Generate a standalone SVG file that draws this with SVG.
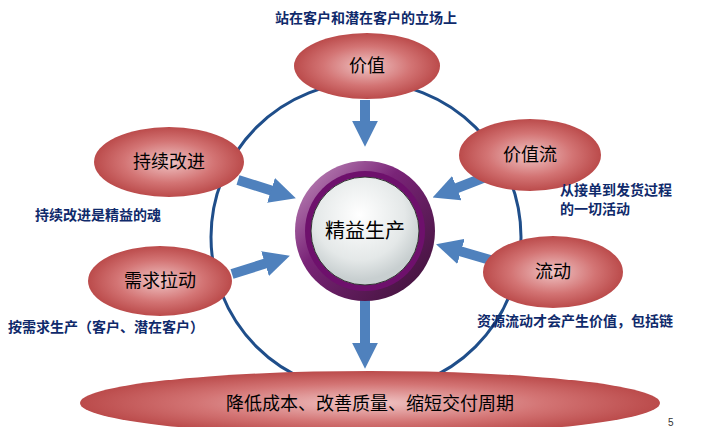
<svg xmlns="http://www.w3.org/2000/svg" width="714" height="427" viewBox="0 0 714 427">
<defs>
<radialGradient id="red" cx="50%" cy="50%" r="50%"><stop offset="0" stop-color="#f0c4c4"/><stop offset="0.6" stop-color="#d37474"/><stop offset="1" stop-color="#bb4b4b"/></radialGradient>
<linearGradient id="ring" x1="0" y1="0" x2="1" y2="1"><stop offset="0" stop-color="#c99ac4"/><stop offset="0.4" stop-color="#7a2478"/><stop offset="1" stop-color="#3a1033"/></linearGradient>
<radialGradient id="white" cx="45%" cy="35%" r="60%"><stop offset="0" stop-color="#ffffff"/><stop offset="0.7" stop-color="#e4e8e8"/><stop offset="1" stop-color="#c8cfd0"/></radialGradient>
<marker id="ah" viewBox="0 0 10 10" refX="2" refY="5" markerWidth="2.6" markerHeight="2.6" orient="auto" markerUnits="strokeWidth"><path d="M0,0 L10,5 L0,10 Z" fill="#4f81bd"/></marker>
</defs>
<style>
.node{fill:url(#red)}
.t{font-family:"Noto Sans CJK SC",sans-serif;font-size:18px;fill:#000;text-anchor:middle}
.n{font-family:"Noto Sans CJK SC",sans-serif;font-size:14px;font-weight:bold;fill:#0f2a6b}
.c line{stroke:#4f81bd;stroke-width:10;marker-end:url(#ah)}
</style>
<rect width="714" height="427" fill="#fff"/>
<circle cx="366" cy="237" r="155" fill="none" stroke="#1f4e8a" stroke-width="3"/>
<g class="c" id="connectors">
<line x1="365" y1="100" x2="365" y2="126"/>
<line x1="488" y1="176" x2="452" y2="190"/>
<line x1="497" y1="262" x2="456" y2="250"/>
<line x1="238" y1="180" x2="276" y2="192"/>
<line x1="232" y1="274" x2="270" y2="262"/>
<line x1="365" y1="300" x2="365" y2="348"/>
</g>
<g id="top"><ellipse class="node" cx="367" cy="66" rx="73" ry="33"/><text class="t" x="367" y="72">价值</text></g>
<g id="vs"><ellipse class="node" cx="530" cy="155" rx="71" ry="36"/><text class="t" x="530" y="161">价值流</text></g>
<g id="flow"><ellipse class="node" cx="553" cy="272" rx="70" ry="36"/><text class="t" x="553" y="278">流动</text></g>
<g id="ci"><ellipse class="node" cx="169" cy="162" rx="75" ry="35"/><text class="t" x="169" y="168">持续改进</text></g>
<g id="pull"><ellipse class="node" cx="160" cy="281" rx="72" ry="35"/><text class="t" x="160" y="287">需求拉动</text></g>
<g id="bottom"><ellipse class="node" cx="370" cy="403" rx="290" ry="32"/><text class="t" x="370" y="410">降低成本、改善质量、缩短交付周期</text></g>
<g id="center"><circle cx="365" cy="231" r="70" fill="url(#ring)"/><circle cx="365" cy="231" r="60" fill="#6e106c"/><circle cx="365" cy="231" r="54" fill="url(#white)" stroke="#333" stroke-width="1"/><text class="t" x="365" y="238" style="font-size:20px">精益生产</text></g>
<g id="notes">
<text class="n" x="366" y="23" text-anchor="middle">站在客户和潜在客户的立场上</text>
<text class="n" x="560" y="195">从接单到发货过程</text>
<text class="n" x="560" y="214">的一切活动</text>
<text class="n" x="35" y="220">持续改进是精益的魂</text>
<text class="n" x="8" y="332">按需求生产（客户、潜在客户）</text>
<text class="n" x="477" y="326">资源流动才会产生价值，包括链</text>
<text x="668" y="426" style="font-family:'Liberation Sans',sans-serif;font-size:10px;fill:#333">5</text>
</g>
</svg>
